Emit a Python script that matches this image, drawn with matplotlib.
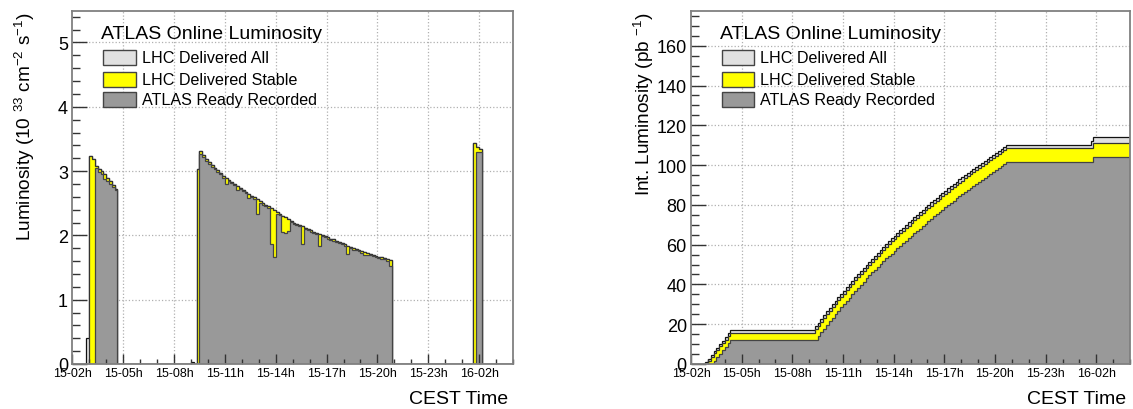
import numpy as np
import pandas as pd
import matplotlib
matplotlib.use("Agg")
import matplotlib.pyplot as plt
from matplotlib.patches import Rectangle
from matplotlib.ticker import MultipleLocator

plt.rcParams['font.family'] = ['Liberation Sans', 'DejaVu Sans']
plt.rcParams['mathtext.fontset'] = 'custom'
plt.rcParams['mathtext.rm'] = 'Liberation Sans'
plt.rcParams['mathtext.default'] = 'regular'

# x axis is hours after 15-02h, one bin per 10 min luminosity block
BIN_H = 1 / 6
N_BINS = 156
X_MAX = 26
time_ticks = [0, 3, 6, 9, 12, 15, 18, 21, 24]
time_labels = ['15-02h', '15-05h', '15-08h', '15-11h', '15-14h',
               '15-17h', '15-20h', '15-23h', '16-02h']

series_names = ['LHC Delivered All', 'LHC Delivered Stable', 'ATLAS Ready Recorded']
series_colors = ['#e1e1e1', '#ffff00', '#999999']
edge_colors = ['#111111', '#333333', '#444444']

# --- instantaneous luminosity (10^33 cm-2 s-1), first bin of each fill + one value per block
fill_start = [6, 44, 142]
stable_fill1 = [3.23, 3.19, 3.08, 3.04, 3.00, 2.96, 2.90, 2.85, 2.78, 2.72]
recorded_fill1 = [0, 0, 3.05, 2.98, 2.96, 2.88, 2.85, 2.80, 2.76, 2.70]
stable_fill2 = [3.03, 3.32, 3.25, 3.19, 3.14, 3.09, 3.05, 3.01, 2.97, 2.93,
                2.89, 2.86, 2.83, 2.80, 2.77, 2.74, 2.71, 2.68, 2.65, 2.62,
                2.59, 2.56, 2.53, 2.50, 2.47, 2.45, 2.42, 2.39, 2.36, 2.33,
                2.30, 2.28, 2.25, 2.23, 2.20, 2.18, 2.16, 2.14, 2.12, 2.10,
                2.08, 2.06, 2.04, 2.02, 2.01, 1.99, 1.97, 1.95, 1.94, 1.92,
                1.90, 1.88, 1.86, 1.84, 1.82, 1.80, 1.79, 1.77, 1.75, 1.74,
                1.72, 1.71, 1.70, 1.68, 1.67, 1.66, 1.65, 1.64, 1.62]
recorded_fill2 = [0, 3.27, 3.22, 3.16, 3.11, 3.07, 3.03, 2.98, 2.95, 2.90,
                  2.80, 2.84, 2.81, 2.78, 2.71, 2.72, 2.69, 2.66, 2.58, 2.60,
                  2.57, 2.33, 2.51, 2.48, 2.45, 2.43, 1.87, 1.66, 2.34, 2.31,
                  2.05, 2.04, 2.07, 2.21, 2.18, 2.16, 2.14, 1.87, 2.10, 2.08,
                  2.06, 2.04, 2.02, 1.83, 1.99, 1.97, 1.95, 1.93, 1.92, 1.90,
                  1.88, 1.86, 1.84, 1.71, 1.80, 1.78, 1.77, 1.75, 1.73, 1.69,
                  1.70, 1.69, 1.68, 1.66, 1.65, 1.64, 1.63, 1.60, 1.52]
stable_fill3 = [3.43, 3.38, 3.35]
recorded_fill3 = [0, 3.30, 3.29]
# beam delivered but not declared stable
unstable_bins = [5, 42]
unstable_lumi = [0.4, 0.03]

# --- integrated luminosity (pb-1), first bin of each fill + running total per block
int_start = [5, 44, 142]
int_all_fill1 = [0.8, 2.7, 4.6, 6.4, 8.2, 10.0, 11.8, 13.6, 15.4, 17.1]
int_stable_fill1 = [0, 1.6, 3.5, 5.3, 7.1, 8.8, 10.5, 12.2, 13.9, 15.6]
int_recorded_fill1 = [0, 0, 0, 1.7, 3.5, 5.2, 6.9, 8.6, 10.4, 12.1]
int_all_fill2 = [18.9, 20.8, 22.7, 24.6, 26.4, 28.2, 30.0, 31.8, 33.5, 35.3,
                 36.9, 38.6, 40.3, 41.9, 43.5, 45.2, 46.7, 48.3, 49.9, 51.4,
                 52.9, 54.4, 55.9, 57.4, 58.8, 60.2, 61.7, 63.2, 64.5, 65.9,
                 67.3, 68.6, 69.9, 71.2, 72.5, 73.8, 75.1, 76.3, 77.6, 78.8,
                 80.0, 81.2, 82.4, 83.6, 84.8, 85.9, 87.1, 88.3, 89.5, 90.6,
                 91.7, 92.8, 93.9, 95.0, 96.0, 97.1, 98.1, 99.2, 100.2, 101.2,
                 102.2, 103.2, 104.3, 105.3, 106.3, 107.3, 108.2, 109.2, 110.2]
int_stable_fill2 = [17.4, 19.3, 21.2, 23.1, 24.9, 26.7, 28.5, 30.3, 32.0, 33.8,
                    35.4, 37.1, 38.8, 40.4, 42.0, 43.7, 45.2, 46.8, 48.4, 49.9,
                    51.4, 52.9, 54.4, 55.9, 57.3, 58.7, 60.2, 61.6, 62.9, 64.3,
                    65.7, 67.0, 68.3, 69.6, 70.9, 72.2, 73.5, 74.7, 76.0, 77.2,
                    78.4, 79.6, 80.8, 82.0, 83.2, 84.3, 85.5, 86.6, 87.8, 88.9,
                    90.0, 91.1, 92.2, 93.3, 94.3, 95.4, 96.4, 97.5, 98.5, 99.5,
                    100.5, 101.5, 102.5, 103.5, 104.5, 105.5, 106.4, 107.4, 108.4]
int_recorded_fill2 = [12.1, 14.0, 15.9, 17.8, 19.6, 21.4, 23.2, 25.0, 26.7, 28.5,
                      30.0, 31.7, 33.4, 35.0, 36.6, 38.3, 39.8, 41.4, 43.0, 44.5,
                      46.0, 47.4, 48.9, 50.4, 51.8, 53.2, 54.4, 55.4, 56.7, 58.1,
                      59.4, 60.6, 61.8, 63.1, 64.4, 65.7, 67.0, 68.1, 69.4, 70.6,
                      71.8, 73.0, 74.2, 75.3, 76.5, 77.6, 78.8, 79.9, 81.1, 82.2,
                      83.3, 84.4, 85.5, 86.5, 87.5, 88.6, 89.6, 90.7, 91.7, 92.7,
                      93.7, 94.7, 95.7, 96.7, 97.7, 98.7, 99.6, 100.5, 101.4]
int_all_fill3 = [112.0, 113.9]
int_stable_fill3 = [108.4, 110.9]
int_recorded_fill3 = [101.4, 103.9]


def per_bin(starts, fills):
    out = np.zeros(N_BINS)
    for s, vals in zip(starts, fills):
        out[s:s + len(vals)] = vals
    return out


def running_total(starts, fills):
    out = pd.Series(np.nan, index=range(N_BINS))
    for s, vals in zip(starts, fills):
        out.iloc[s:s + len(vals)] = vals
    return out.ffill().fillna(0).to_numpy()


lumi_stable = per_bin(fill_start, [stable_fill1, stable_fill2, stable_fill3])
lumi_recorded = per_bin(fill_start, [recorded_fill1, recorded_fill2, recorded_fill3])
lumi_all = lumi_stable.copy()
lumi_all[unstable_bins] = unstable_lumi

int_all = running_total(int_start, [int_all_fill1, int_all_fill2, int_all_fill3])
int_stable = running_total(int_start, [int_stable_fill1, int_stable_fill2, int_stable_fill3])
int_recorded = running_total(int_start, [int_recorded_fill1, int_recorded_fill2, int_recorded_fill3])

edges = np.arange(N_BINS + 1) * BIN_H


def style_axes(ax, ymax, ymajor, yminor, ylabel):
    ax.set_xlim(0, X_MAX)
    ax.set_ylim(0, ymax)
    ax.set_xticks(time_ticks)
    ax.set_xticklabels(time_labels)
    ax.xaxis.set_minor_locator(MultipleLocator(1))
    ax.yaxis.set_major_locator(MultipleLocator(ymajor))
    ax.yaxis.set_minor_locator(MultipleLocator(yminor))
    ax.tick_params(axis='x', which='major', direction='in', length=7, width=1,
                   color='#333333', labelsize=9, pad=2)
    ax.tick_params(axis='x', which='minor', direction='in', length=3.5, width=1, color='#333333')
    ax.tick_params(axis='y', which='major', direction='in', length=11, width=1,
                   color='#333333', labelsize=13, pad=3)
    ax.tick_params(axis='y', which='minor', direction='in', length=6, width=1, color='#333333')
    for sp in ax.spines.values():
        sp.set_color('#808080')
        sp.set_linewidth(1.3)
    # dotted grid behind the histograms
    for t in time_ticks[1:]:
        ax.axvline(t, color='#b0b0b0', linestyle=':', linewidth=0.9, zorder=0)
    for v in np.arange(ymajor, ymax, ymajor):
        ax.axhline(v, color='#b0b0b0', linestyle=':', linewidth=0.9, zorder=0)
    ax.text(-0.108, 1.0, ylabel, transform=ax.transAxes, rotation=90,
            ha='center', va='top', fontsize=13.7)
    ax.text(0.99, -0.097, 'CEST Time', transform=ax.transAxes,
            ha='right', va='center', fontsize=14)
    # legend in ROOT style
    ax.text(0.065, 0.935, 'ATLAS Online Luminosity', transform=ax.transAxes,
            ha='left', va='center', fontsize=14)
    for yc, name, fc in zip([0.869, 0.805, 0.749], series_names, series_colors):
        ax.add_patch(Rectangle((0.0697, yc - 0.0215), 0.0744, 0.043, transform=ax.transAxes,
                               facecolor=fc, edgecolor='#444444', linewidth=1, zorder=3))
        ax.text(0.1575, yc, name, transform=ax.transAxes, ha='left', va='center', fontsize=11.6)


fig = plt.figure(figsize=(11.33, 4.10), dpi=100)
ax1 = fig.add_axes([0.0638, 0.1098, 0.389, 0.861])
ax2 = fig.add_axes([0.6099, 0.1098, 0.3875, 0.861])

for vals, fc, ec in zip([lumi_all, lumi_stable, lumi_recorded], series_colors, edge_colors):
    ax1.stairs(vals, edges, fill=True, facecolor=fc, edgecolor=ec, linewidth=0.9, zorder=1)
style_axes(ax1, 5.49, 1, 0.2, r'Luminosity (10 $^{33}$ cm$^{-2}$ s$^{-1}$)')

for vals, fc, ec in zip([int_all, int_stable, int_recorded], series_colors, edge_colors):
    ax2.stairs(vals, edges, fill=True, facecolor=fc, edgecolor=ec, linewidth=0.9, zorder=1)
style_axes(ax2, 177.5, 20, 5, r'Int. Luminosity (pb $^{-1}$)')

fig.savefig('out.png', dpi=100)
